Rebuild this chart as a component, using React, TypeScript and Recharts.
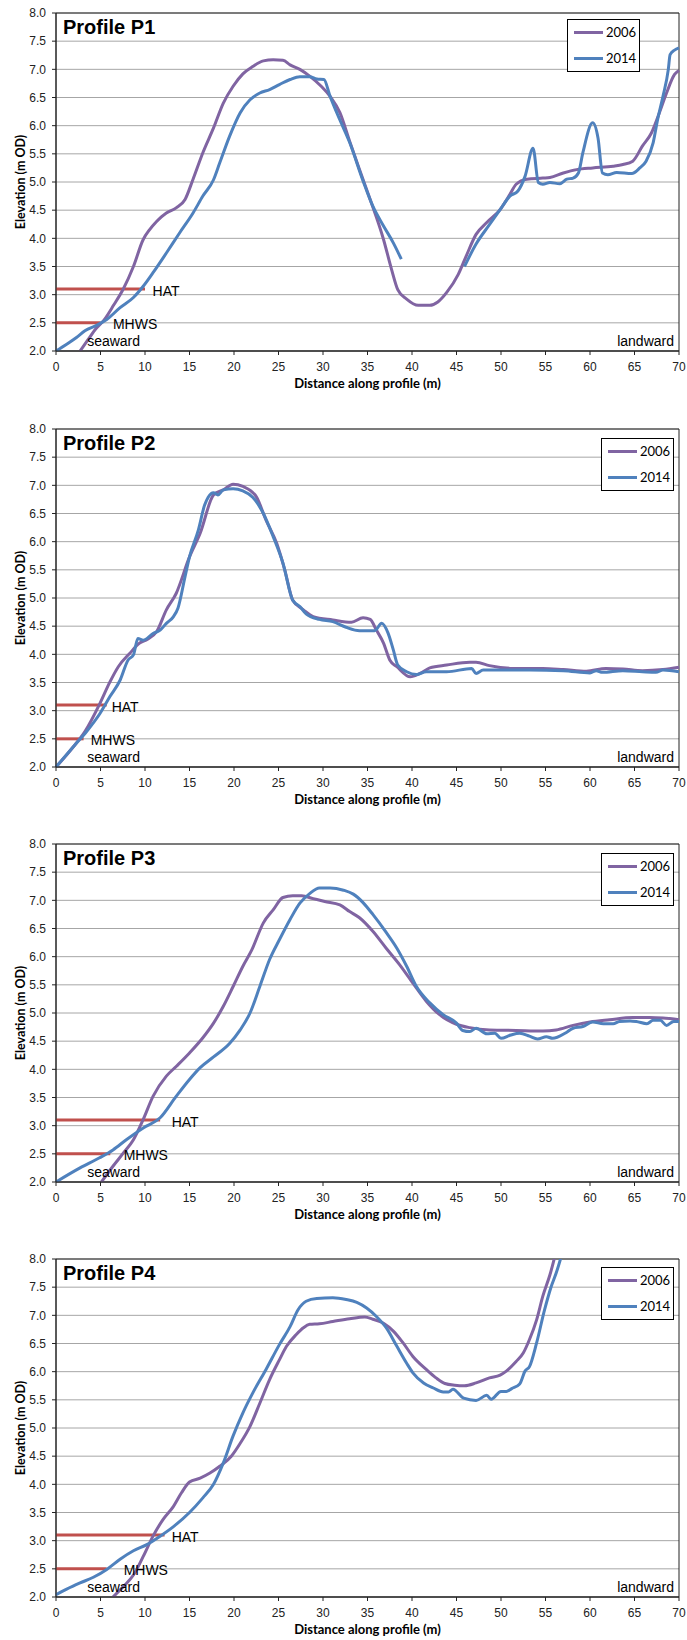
import {
  LineChart,
  Line,
  XAxis,
  YAxis,
  CartesianGrid,
  ReferenceLine,
  ReferenceArea,
  ReferenceDot,
  Legend,
  Label,
} from 'recharts'

type Pair = [number, number | null]

const distanceTicks = [0, 5, 10, 15, 20, 25, 30, 35, 40, 45, 50, 55, 60, 65, 70]
const elevationTicks = [2, 2.5, 3, 3.5, 4, 4.5, 5, 5.5, 6, 6.5, 7, 7.5, 8]

const HAT_LEVEL = 3.1
const MHWS_LEVEL = 2.5

// surveyed profiles: [distance along profile (m), elevation (m OD)]
const p1Survey2006: Pair[] = [
  [2.7, 2.0], [3.6, 2.2], [4.5, 2.4], [5.3, 2.53], [6.5, 2.82], [7.56, 3.1], [8.7, 3.5], [9.8, 3.98],
  [10.5, 4.15], [11.3, 4.3], [12.4, 4.45], [13.5, 4.54], [14.5, 4.69], [15.4, 5.05], [16.5, 5.52],
  [17.7, 5.96], [18.8, 6.4], [19.9, 6.7], [21, 6.92], [22.1, 7.05], [23.3, 7.15], [24.4, 7.17],
  [25.5, 7.16], [26.3, 7.08], [27.4, 7.0], [28.5, 6.88], [29.8, 6.7], [30.8, 6.52], [31.9, 6.23],
  [33, 5.72], [34.1, 5.22], [35.3, 4.69], [36.8, 3.98], [37.7, 3.45], [38.4, 3.09], [39.4, 2.92],
  [40.7, 2.81], [42, 2.81], [42.9, 2.87], [43.9, 3.04], [45.2, 3.36], [46.1, 3.69], [47.2, 4.07],
  [48.4, 4.28], [49.9, 4.51], [51, 4.78], [51.7, 4.96], [52.9, 5.05], [54.7, 5.07], [55.5, 5.08],
  [57, 5.16], [58.5, 5.22], [60.3, 5.25], [62.6, 5.28], [63.7, 5.31], [64.8, 5.37], [65.9, 5.64],
  [66.9, 5.87], [67.8, 6.23], [68.6, 6.58], [69.5, 6.91], [70, 6.98],
]

const p1Survey2014: Pair[] = [
  [0, 2.0], [1.2, 2.12], [2.3, 2.24], [3.25, 2.36], [4.6, 2.46], [5.7, 2.56], [7.2, 2.77], [8.7, 2.95],
  [9.8, 3.15], [10.9, 3.39], [12.4, 3.74], [13.9, 4.1], [15.4, 4.45], [16.5, 4.75], [17.7, 5.04],
  [18.4, 5.34], [19.5, 5.81], [20.7, 6.23], [21.8, 6.46], [22.9, 6.58], [24, 6.64], [25.1, 6.73],
  [26.3, 6.82], [27.4, 6.87], [28.5, 6.87], [29.3, 6.83], [30.1, 6.82], [30.8, 6.52], [31.9, 6.1],
  [33, 5.7], [34.5, 5.02], [35.6, 4.57], [36.8, 4.22], [37.9, 3.92], [38.8, 3.63],
  [42, null],
  [45.9, 3.5], [47.2, 3.9], [48.6, 4.22], [49.9, 4.51], [51, 4.75], [51.9, 4.84], [52.7, 5.1],
  [53.6, 5.6], [54.2, 4.99], [54.7, 4.96], [55.5, 4.99], [56.6, 4.97], [57.4, 5.05], [58.1, 5.07],
  [58.7, 5.16], [59.2, 5.52], [60.3, 6.05], [60.9, 5.78], [61.4, 5.16], [62, 5.13], [63, 5.17],
  [64.7, 5.15], [65.6, 5.25], [66.3, 5.37], [67.1, 5.7], [67.6, 6.11], [68.2, 6.52], [68.8, 7.0],
  [69, 7.26], [69.5, 7.34], [70, 7.38],
]

const p2Survey2006: Pair[] = [
  [0, 2.0], [1.95, 2.36], [3.25, 2.63], [4.94, 3.13], [6.06, 3.51], [7, 3.78], [8.3, 4.02], [9.4, 4.2],
  [10.2, 4.26], [11.3, 4.4], [12.4, 4.79], [13.5, 5.08], [15, 5.73], [16.2, 6.15], [17.7, 6.83],
  [18.8, 6.92], [19.9, 7.02], [21, 6.98], [22.5, 6.8], [23.6, 6.38], [24.8, 5.97], [25.7, 5.5],
  [26.6, 4.96], [27.8, 4.79], [28.9, 4.67], [31.1, 4.61], [33.2, 4.57], [34.5, 4.65], [35.3, 4.62],
  [36, 4.43], [36.8, 4.2], [37.5, 3.9], [38.3, 3.78], [39.8, 3.6], [40.9, 3.66], [42, 3.76],
  [43.9, 3.81], [46.5, 3.86], [47.2, 3.86], [48.7, 3.8], [51.4, 3.75], [54.7, 3.75], [57, 3.73],
  [59.6, 3.7], [61.8, 3.75], [63.7, 3.74], [65.9, 3.71], [68.2, 3.73], [70, 3.77],
]

const p2Survey2014: Pair[] = [
  [0, 2.0], [1.95, 2.36], [3.44, 2.63], [4.94, 2.95], [6.06, 3.25], [7.2, 3.54], [8.1, 3.9], [8.7, 3.99],
  [9.2, 4.28], [9.8, 4.25], [10.9, 4.37], [11.7, 4.43], [12.4, 4.55], [13.2, 4.67], [13.7, 4.82],
  [14.5, 5.38], [15, 5.73], [16, 6.21], [16.7, 6.65], [17.1, 6.79], [17.7, 6.87], [18.2, 6.83],
  [18.8, 6.92], [19.9, 6.94], [21, 6.9], [22.1, 6.79], [23.3, 6.5], [24.4, 6.09], [25.5, 5.62],
  [26.6, 4.96], [27.4, 4.85], [28.1, 4.72], [29.6, 4.62], [31.1, 4.58], [32.6, 4.48], [34.1, 4.42],
  [35.3, 4.42], [35.8, 4.42], [36.6, 4.55], [37.3, 4.38], [37.9, 4.08], [38.4, 3.81], [39.4, 3.69],
  [40.5, 3.64], [41.6, 3.69], [43.9, 3.69], [46.7, 3.75], [47.2, 3.66], [48, 3.72], [53.2, 3.72],
  [57, 3.71], [60, 3.67], [60.7, 3.71], [61.4, 3.68], [63.7, 3.71], [65.9, 3.69], [67.4, 3.68],
  [68.2, 3.72], [70, 3.69],
]

const p3Survey2006: Pair[] = [
  [5.1, 2.0], [6.4, 2.28], [7.6, 2.52], [8.7, 2.75], [9.8, 3.11], [10.9, 3.52], [12.4, 3.88], [13.5, 4.05],
  [15, 4.29], [16.5, 4.56], [17.7, 4.82], [18.8, 5.12], [19.9, 5.47], [21, 5.83], [22, 6.12], [23.3, 6.6],
  [24.4, 6.83], [25.5, 7.05], [26.6, 7.08], [27.6, 7.08], [28.9, 7.03], [30.2, 6.98], [31.9, 6.92],
  [33, 6.8], [34.1, 6.69], [35.6, 6.45], [37.1, 6.15], [38.6, 5.86], [40.1, 5.53], [41.6, 5.21],
  [43.1, 4.97], [45, 4.8], [46.5, 4.74], [48.7, 4.7], [51.7, 4.69], [54.7, 4.68], [56.2, 4.7],
  [58.1, 4.78], [60, 4.84], [62.2, 4.88], [64.8, 4.92], [66.7, 4.92], [68.2, 4.91], [70, 4.88],
]

const p3Survey2014: Pair[] = [
  [0, 2.0], [2.7, 2.25], [4.9, 2.43], [6.4, 2.57], [7.9, 2.75], [9.8, 2.96], [11.7, 3.14], [13.5, 3.52],
  [15, 3.82], [16.2, 4.03], [17.7, 4.22], [19.5, 4.46], [20.7, 4.7], [21.8, 5.0], [22.9, 5.47], [24, 5.95],
  [25.1, 6.3], [26.3, 6.66], [27.4, 6.95], [28.5, 7.12], [29.6, 7.22], [30.8, 7.22], [32.3, 7.18],
  [33.4, 7.11], [34.5, 6.96], [35.6, 6.75], [37.1, 6.43], [38.3, 6.15], [39.4, 5.83], [40.5, 5.47],
  [42, 5.18], [43.5, 4.97], [45, 4.82], [45.7, 4.69], [46.5, 4.67], [47.2, 4.73], [48.4, 4.63],
  [49.3, 4.64], [50, 4.55], [51.1, 4.61], [52.1, 4.64], [53.2, 4.59], [54.1, 4.54], [55.1, 4.58],
  [55.8, 4.55], [57.3, 4.65], [58.1, 4.73], [59.2, 4.76], [60.3, 4.84], [61.5, 4.81], [62.6, 4.81],
  [63.3, 4.85], [64.5, 4.86], [65.2, 4.85], [66.4, 4.81], [67.1, 4.87], [67.9, 4.87], [68.6, 4.78],
  [69.4, 4.85], [70, 4.85],
]

const p4Survey2006: Pair[] = [
  [6.4, 2.0], [7.6, 2.19], [8.7, 2.39], [9.8, 2.72], [10.9, 3.08], [12, 3.37], [13.2, 3.61], [14.1, 3.85],
  [15, 4.04], [16.2, 4.11], [17.3, 4.2], [18.4, 4.32], [19.7, 4.5], [20.7, 4.73], [21.8, 5.03],
  [22.9, 5.44], [24, 5.86], [25.1, 6.21], [25.9, 6.45], [27, 6.66], [27.8, 6.78], [28.5, 6.84],
  [29.6, 6.85], [31.1, 6.89], [33, 6.94], [34.7, 6.97], [35.6, 6.93], [36.8, 6.86], [37.9, 6.72],
  [39, 6.51], [40.1, 6.27], [41.6, 6.04], [42.7, 5.89], [43.7, 5.79], [44.8, 5.76], [45.9, 5.75],
  [47.2, 5.8], [48.7, 5.89], [49.9, 5.94], [50.6, 6.01], [51.7, 6.18], [52.5, 6.33], [53.2, 6.57],
  [54, 6.92], [54.7, 7.34], [55.5, 7.72], [56.6, 8.4],
]

const p4Survey2014: Pair[] = [
  [0, 2.04], [1.2, 2.14], [2.7, 2.25], [4.2, 2.35], [5.7, 2.49], [7.2, 2.67], [8.7, 2.82], [10.2, 2.93],
  [11.7, 3.08], [13.2, 3.25], [15, 3.5], [16.5, 3.76], [17.7, 4.0], [18.8, 4.38], [19.9, 4.86], [21, 5.27],
  [22.1, 5.62], [23.6, 6.04], [25.1, 6.48], [26.3, 6.8], [27.2, 7.1], [28.1, 7.25], [29.3, 7.3],
  [31.1, 7.31], [32.6, 7.28], [33.8, 7.23], [34.9, 7.13], [36, 6.98], [37.1, 6.78], [38.3, 6.45],
  [39.4, 6.15], [40.1, 5.98], [41.3, 5.8], [42.4, 5.71], [43.5, 5.64], [44.1, 5.64], [44.6, 5.69],
  [45.8, 5.53], [47.2, 5.49], [48.4, 5.58], [48.9, 5.51], [50, 5.65], [50.6, 5.65], [51.2, 5.7],
  [52.1, 5.78], [52.7, 6.01], [53.2, 6.09], [54, 6.51], [54.9, 7.1], [55.6, 7.49], [56.2, 7.75],
  [57.4, 8.4],
]

// where the tide-level bars stop along each profile (m)
const hatEnds = [10, 5.7, 11.7, 12.2]
const mhwsEnds = [5, 3.1, 6.1, 5.7]

const ARIAL = '"Liberation Sans", Arial, sans-serif'
const CALIBRI = 'Lato, "Open Sans", sans-serif'
const PURPLE = '#8064A2'
const BLUE = '#4F81BD'
const RED = '#C0504D'
const INK = '#222'

const toPoints = (pairs: Pair[]) => pairs.map(([x, y]) => ({ x, y }))

const panels = [
  { title: 'Profile P1', s2006: p1Survey2006, s2014: p1Survey2014, top: 0, hatText: 10.85, mhwsText: 6.4, legend: { left: 567, top: 19 } },
  { title: 'Profile P2', s2006: p2Survey2006, s2014: p2Survey2014, top: 416, hatText: 6.25, mhwsText: 3.9, legend: { left: 601, top: 22 } },
  { title: 'Profile P3', s2006: p3Survey2006, s2014: p3Survey2014, top: 831, hatText: 13, mhwsText: 7.6, legend: { left: 601, top: 22 } },
  { title: 'Profile P4', s2006: p4Survey2006, s2014: p4Survey2014, top: 1246, hatText: 13, mhwsText: 7.6, legend: { left: 601, top: 21 } },
]

const annotation = (text: string, dy: number) => (props: any) => (
  <text x={props.cx} y={props.cy} dy={dy} fontFamily={ARIAL} fontSize={14} fill="#000">
    {text}
  </text>
)

function LegendBox({ payload }: any) {
  return (
    <div
      style={{
        boxSizing: 'border-box',
        width: 73,
        height: 53,
        border: '1px solid #000',
        background: '#fff',
        paddingLeft: 6,
      }}
    >
      {(payload ?? []).map((entry: any) => (
        <div key={entry.value} style={{ display: 'flex', alignItems: 'center', height: 25.5 }}>
          <span style={{ display: 'inline-block', width: 29, height: 3, background: entry.color }} />
          <span style={{ marginLeft: 3, fontFamily: CALIBRI, fontSize: 13, color: '#000', lineHeight: 1 }}>
            {entry.value}
          </span>
        </div>
      ))}
    </div>
  )
}

function ProfileChart({ index }: { index: number }) {
  const p = panels[index]
  return (
    <LineChart width={687} height={400} margin={{ top: 13, right: 8, bottom: 27, left: 0 }}>
      <CartesianGrid vertical={false} stroke="#a6a6a6" strokeWidth={1} />
      <XAxis
        type="number"
        dataKey="x"
        domain={[0, 70]}
        ticks={distanceTicks}
        interval={0}
        height={22}
        tickSize={4}
        tickMargin={7}
        axisLine={{ stroke: INK }}
        tickLine={{ stroke: INK }}
        tick={{ fontSize: 12, fill: INK, fontFamily: ARIAL }}
      >
        <Label
          value="Distance along profile (m)"
          position="bottom"
          offset={6}
          fontSize={13}
          fontWeight={700}
          fontFamily={CALIBRI}
          fill="#000"
        />
      </XAxis>
      <YAxis
        type="number"
        domain={[2, 8]}
        ticks={elevationTicks}
        interval={0}
        allowDataOverflow
        width={56}
        tickSize={4}
        tickMargin={6}
        tickFormatter={(v: number) => v.toFixed(1)}
        axisLine={{ stroke: INK }}
        tickLine={{ stroke: INK }}
        tick={{ fontSize: 12, fill: INK, fontFamily: ARIAL }}
      >
        <Label
          value="Elevation (m OD)"
          angle={-90}
          position="insideLeft"
          offset={21}
          fontSize={12.5}
          fontWeight={700}
          fontFamily={CALIBRI}
          fill="#000"
          style={{ textAnchor: 'middle' }}
        />
      </YAxis>

      <ReferenceArea x1={0} x2={70} y1={2} y2={8} fill="none" stroke={INK} strokeWidth={1}>
        <Label value={p.title} position="insideTopLeft" offset={7} fontSize={20} fontWeight={700} fontFamily={ARIAL} fill="#000" />
        <Label value="landward" position="insideBottomRight" offset={5} fontSize={14} fontFamily={ARIAL} fill="#000" />
      </ReferenceArea>

      <ReferenceLine segment={[{ x: 0, y: HAT_LEVEL }, { x: hatEnds[index], y: HAT_LEVEL }]} stroke={RED} strokeWidth={3} />
      <ReferenceLine segment={[{ x: 0, y: MHWS_LEVEL }, { x: mhwsEnds[index], y: MHWS_LEVEL }]} stroke={RED} strokeWidth={3} />
      <ReferenceDot x={p.hatText} y={HAT_LEVEL} r={1} shape={annotation('HAT', 6.5)} />
      <ReferenceDot x={p.mhwsText} y={MHWS_LEVEL} r={1} shape={annotation('MHWS', 6.5)} />
      <ReferenceDot x={3.5} y={2} r={1} shape={annotation('seaward', -5)} />

      <Legend
        layout="vertical"
        verticalAlign="middle"
        align="center"
        wrapperStyle={{ left: p.legend.left, top: p.legend.top, width: 73 }}
        content={<LegendBox />}
      />

      <Line
        data={toPoints(p.s2006)}
        dataKey="y"
        name="2006"
        type="monotone"
        stroke={PURPLE}
        strokeWidth={3}
        dot={false}
        activeDot={false}
        isAnimationActive={false}
      />
      <Line
        data={toPoints(p.s2014)}
        dataKey="y"
        name="2014"
        type="monotone"
        stroke={BLUE}
        strokeWidth={3}
        dot={false}
        activeDot={false}
        connectNulls={false}
        isAnimationActive={false}
      />
    </LineChart>
  )
}

export default function App() {
  return (
    <div style={{ position: 'absolute', left: 0, top: 0, width: 687, height: 1640, background: '#fff' }}>
      {panels.map((p, i) => (
        <div key={p.title} style={{ position: 'absolute', left: 0, top: p.top }}>
          <ProfileChart index={i} />
        </div>
      ))}
    </div>
  )
}
